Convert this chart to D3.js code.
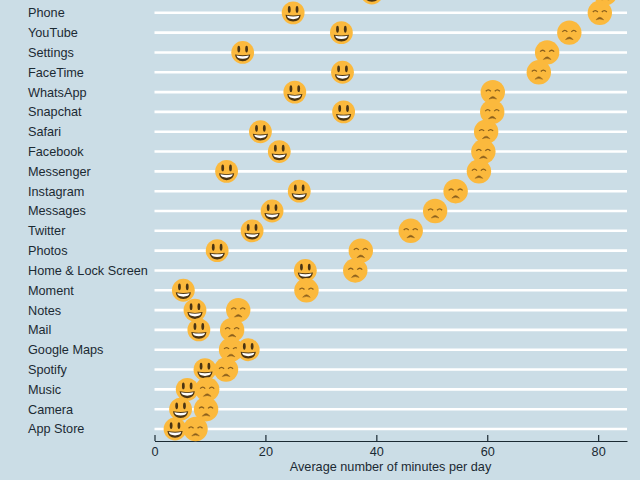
<!doctype html>
<html>

<head>
  <meta charset="utf-8">
  <title>Screen time by app</title>
  <style>
    html, body {
      margin: 0;
      padding: 0;
      background: #cbdde6;
      overflow: hidden;
    }
    text {
      font-family: "Liberation Sans", Arial, sans-serif;
    }
  </style>
</head>

<body>
  <div class="graphContainer"></div>
  <script src="https://cdn.jsdelivr.net/npm/d3@7/dist/d3.min.js"></script>
  <script>

// the top row is cut off by the picture, its label can't be read
const apps = ["", "Phone", "YouTube", "Settings", "FaceTime", "WhatsApp", "Snapchat",
    "Safari", "Facebook", "Messenger", "Instagram", "Messages", "Twitter", "Photos",
    "Home & Lock Screen", "Moment", "Notes", "Mail", "Google Maps", "Spotify", "Music",
    "Camera", "App Store"];

const happyMinutes = [39.2, 25, 33.7, 15.9, 33.9, 25.3, 34.1, 19.1, 22.5, 13, 26.1, 21.2,
    17.6, 11.3, 27.2, 5.2, 7.3, 8, 16.9, 9.1, 5.9, 4.7, 3.7];

const sadMinutes = [81.3, 80.3, 74.8, 70.8, 69.3, 61, 60.9, 59.8, 59.3, 58.5, 54.3, 50.6,
    46.2, 37.2, 36.2, 27.4, 15.1, 14, 13.8, 12.9, 9.5, 9.3, 7.4];

const xTicks = [0, 20, 40, 60, 80];
const xLabel = "Average number of minutes per day";

function chart() {
    let w = 640,
        h = 480;

    let textColor = "#1b2a33",
        faceColor = "#fbb93d",
        darkColor = "#4a3413",
        softColor = "#8a5f1c";

    var canvas = d3.select(".graphContainer")
        .append("svg")
        .attr("width", w)
        .attr("height", h)
        .style("display", "block");

    let x = d3.scaleLinear().domain([0, 85.2]).range([154.5, 627]);
    let y = d3.scalePoint().domain(apps).range([-7, 429]);

    // white row lines
    canvas.selectAll(".rowLine")
        .data(apps)
        .enter().append("line")
        .attr("class", "rowLine")
        .attr("x1", x(0))
        .attr("x2", x(85.2))
        .attr("y1", d => y(d))
        .attr("y2", d => y(d))
        .attr("stroke", "#fff")
        .attr("stroke-width", 2.6);

    canvas.selectAll(".rowLabel")
        .data(apps)
        .enter().append("text")
        .attr("class", "rowLabel")
        .attr("x", 28)
        .attr("y", d => y(d))
        .attr("dy", "0.35em")
        .attr("font-size", 12.7)
        .attr("fill", textColor)
        .text(d => d);

    var axis = canvas.append("g")
        .attr("transform", "translate(0,441)")
        .call(d3.axisBottom(x).tickValues(xTicks).tickSizeInner(-6).tickSizeOuter(0).tickPadding(6));
    axis.selectAll("path, line").attr("stroke", textColor).attr("stroke-width", 1.2);
    axis.selectAll("text")
        .attr("font-family", "Liberation Sans")
        .attr("font-size", 12.7)
        .attr("fill", textColor);

    canvas.append("text")
        .attr("x", 390.5)
        .attr("y", 471)
        .attr("text-anchor", "middle")
        .attr("font-size", 12.7)
        .attr("fill", textColor)
        .text(xLabel);

    function drawSad(g) {
        g.append("circle").attr("r", 12.2).attr("fill", faceColor);
        g.append("path")
            .attr("d", "M-7,-0.8 Q-4.5,-3.6 -2,-0.8 M2,-0.8 Q4.5,-3.6 7,-0.8")
            .attr("fill", "none")
            .attr("stroke", softColor)
            .attr("stroke-width", 1.3);
        g.append("path")
            .attr("d", "M-3.8,7 Q0,1.8 3.8,7 Q0,5.2 -3.8,7Z")
            .attr("fill", softColor)
            .attr("stroke", softColor)
            .attr("stroke-width", 0.5);
    }

    function drawHappy(g) {
        g.append("circle").attr("r", 11.4).attr("fill", faceColor);
        g.append("ellipse").attr("cx", -3.9).attr("cy", -3.4).attr("rx", 1.4).attr("ry", 3.4).attr("fill", darkColor);
        g.append("ellipse").attr("cx", 3.9).attr("cy", -3.4).attr("rx", 1.4).attr("ry", 3.4).attr("fill", darkColor);
        g.append("path")
            .attr("d", "M-7.6,2 Q0,3.6 7.6,2 Q7,8.6 0,8.8 Q-7,8.6 -7.6,2Z")
            .attr("fill", darkColor);
        g.append("path")
            .attr("d", "M-6.2,3 Q0,4.4 6.2,3 Q5.6,6.2 0,6.4 Q-5.6,6.2 -6.2,3Z")
            .attr("fill", "#fff");
    }

    // rows go top to bottom, the happy face sits over the sad one
    apps.forEach(function(app, i) {
        let sad = canvas.append("g")
            .attr("transform", `translate(${x(sadMinutes[i])},${y(app)})`);
        drawSad(sad);
        let happy = canvas.append("g")
            .attr("transform", `translate(${x(happyMinutes[i])},${y(app)})`);
        drawHappy(happy);
    });
}

chart();

  </script>
</body>
</html>
